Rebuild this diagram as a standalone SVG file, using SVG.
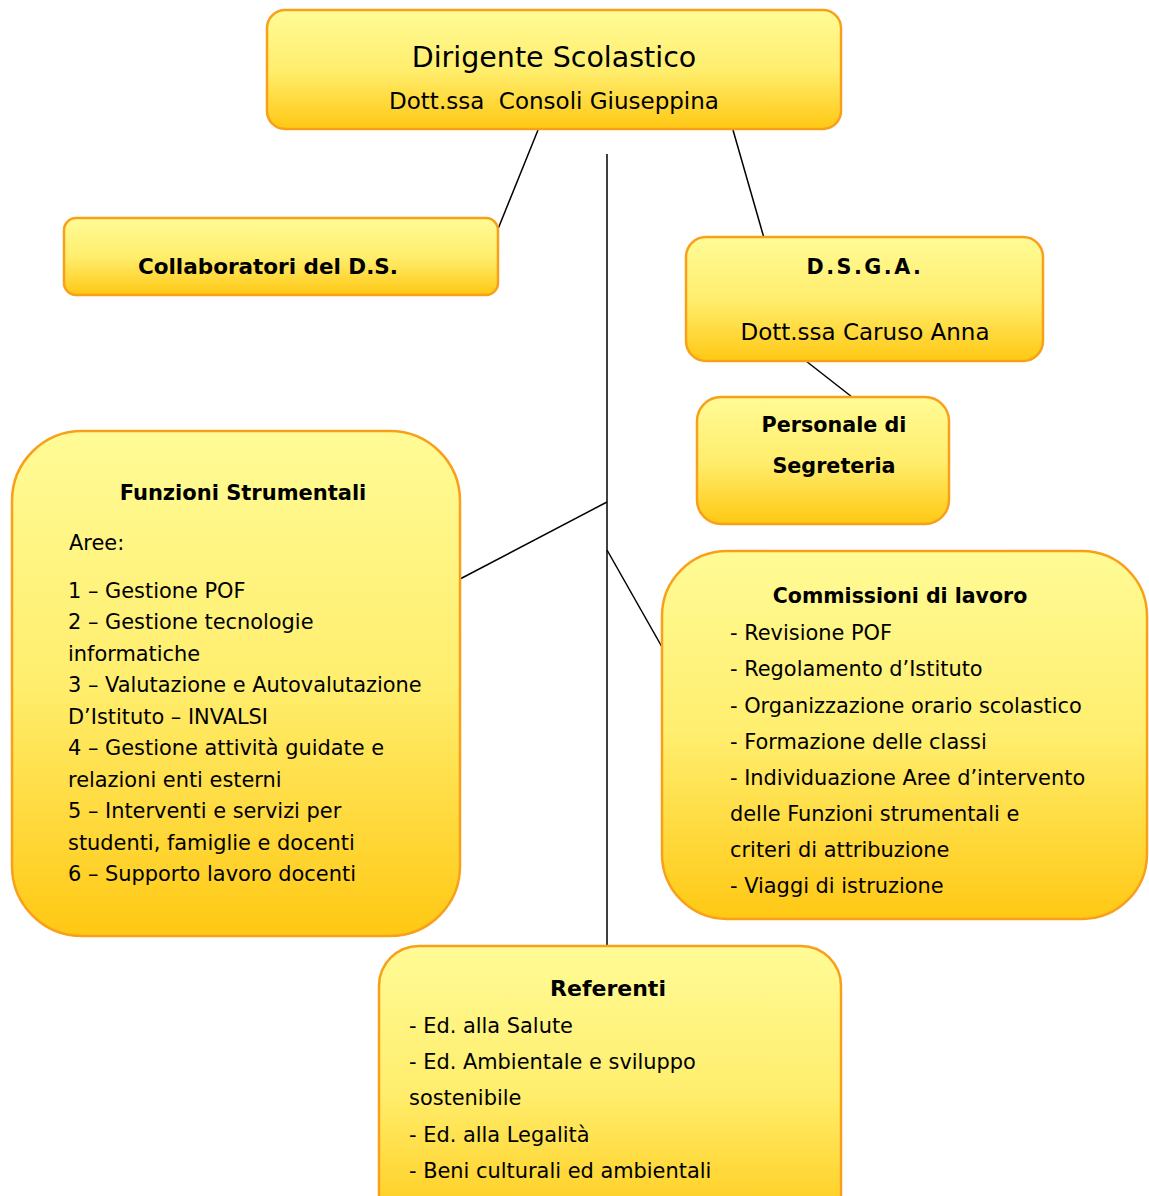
<svg xmlns="http://www.w3.org/2000/svg" width="1149" height="1196" viewBox="0 0 1149 1196">
<style>
.box{fill:url(#g);stroke:#F9A01B;stroke-width:2.5}
.t{font-family:"DejaVu Sans","Open Sans",sans-serif;fill:#000;font-size:20.9px}
.b{font-weight:bold;font-size:20.7px}
.c{text-anchor:middle}
.ln{stroke:#000;stroke-width:1.5;fill:none}
</style>
<defs>
<linearGradient id="g" x1="0" y1="0" x2="0" y2="1">
<stop offset="0" stop-color="#FFFB96"/>
<stop offset="0.5" stop-color="#FFEE6E"/>
<stop offset="1" stop-color="#FFC813"/>
</linearGradient>
</defs>
<rect width="1149" height="1196" fill="#fff"/>
<g id="connectors">
<line class="ln" x1="607" y1="154" x2="607" y2="947"/>
<line class="ln" x1="538" y1="130" x2="498" y2="229"/>
<line class="ln" x1="733" y1="130" x2="764" y2="238"/>
<line class="ln" x1="806" y1="361" x2="852" y2="397"/>
<line class="ln" x1="607" y1="502" x2="460" y2="579"/>
<line class="ln" x1="607" y1="550" x2="662" y2="647"/>
</g>
<g id="dirigente">
<rect class="box" x="267" y="10" width="574" height="119" rx="18"/>
<text class="t c" x="554" y="67" style="font-size:28.5px">Dirigente Scolastico</text>
<text class="t c" x="554" y="109" style="font-size:23px;white-space:pre" xml:space="preserve">Dott.ssa  Consoli Giuseppina</text>
</g>
<g id="collaboratori">
<rect class="box" x="64" y="218" width="434" height="77" rx="12"/>
<text class="t b c" x="268" y="274" style="font-size:21.5px">Collaboratori del D.S.</text>
</g>
<g id="dsga">
<rect class="box" x="686" y="237" width="357" height="124" rx="20"/>
<text class="t b c" x="865" y="274" style="letter-spacing:2.5px">D.S.G.A.</text>
<text class="t c" x="865" y="340" style="font-size:23px">Dott.ssa Caruso Anna</text>
</g>
<g id="personale">
<rect class="box" x="697" y="397" width="252" height="127" rx="24"/>
<text class="t b c" x="834" y="432">Personale di</text>
<text class="t b c" x="834" y="473">Segreteria</text>
</g>
<g id="funzioni">
<rect class="box" x="12" y="431" width="448" height="505" rx="70"/>
<text class="t b c" x="243" y="500" style="font-size:21px">Funzioni Strumentali</text>
<text class="t" x="69" y="550">Aree:</text>
<text class="t" x="68" y="598">1 – Gestione POF</text>
<text class="t" x="68" y="629">2 – Gestione tecnologie</text>
<text class="t" x="68" y="661">informatiche</text>
<text class="t" x="68" y="692">3 – Valutazione e Autovalutazione</text>
<text class="t" x="68" y="724">D’Istituto – INVALSI</text>
<text class="t" x="68" y="755">4 – Gestione attività guidate e</text>
<text class="t" x="68" y="787">relazioni enti esterni</text>
<text class="t" x="68" y="818">5 – Interventi e servizi per</text>
<text class="t" x="68" y="850">studenti, famiglie e docenti</text>
<text class="t" x="68" y="881">6 – Supporto lavoro docenti</text>
</g>
<g id="commissioni">
<rect class="box" x="662" y="551" width="485" height="368" rx="65"/>
<text class="t b c" x="900" y="603" style="font-size:20.5px">Commissioni di lavoro</text>
<text class="t" x="730" y="640">- Revisione POF</text>
<text class="t" x="730" y="676">- Regolamento d’Istituto</text>
<text class="t" x="730" y="713">- Organizzazione orario scolastico</text>
<text class="t" x="730" y="749">- Formazione delle classi</text>
<text class="t" x="730" y="785">- Individuazione Aree d’intervento</text>
<text class="t" x="730" y="821">delle Funzioni strumentali e</text>
<text class="t" x="730" y="857">criteri di attribuzione</text>
<text class="t" x="730" y="893">- Viaggi di istruzione</text>
</g>
<g id="referenti">
<rect class="box" x="379" y="946" width="462" height="290" rx="40"/>
<text class="t b c" x="608" y="996" style="font-size:22px">Referenti</text>
<text class="t" x="409" y="1033">- Ed. alla Salute</text>
<text class="t" x="409" y="1069">- Ed. Ambientale e sviluppo</text>
<text class="t" x="409" y="1105">sostenibile</text>
<text class="t" x="409" y="1142">- Ed. alla Legalità</text>
<text class="t" x="409" y="1178">- Beni culturali ed ambientali</text>
</g>
</svg>
